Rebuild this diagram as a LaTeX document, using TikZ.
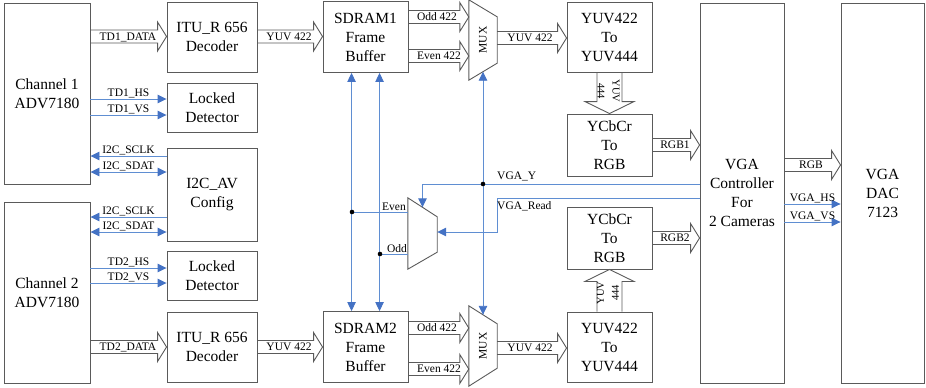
\documentclass[tikz,border=0pt]{standalone}
\usepackage{fontspec}
\setmainfont{Liberation Serif}
\usetikzlibrary{arrows.meta,calc}
\definecolor{bgray}{RGB}{90,90,90}
\definecolor{ablue}{RGB}{68,114,196}
\definecolor{lblue}{RGB}{95,142,210}
\begin{document}
\begin{tikzpicture}[x=1pt,y=-1pt,
  box/.style={draw=bgray,line width=0.9pt,align=center,inner sep=0pt,font=\fontsize{15.5}{19}\selectfont},
  lab/.style={font=\fontsize{11.5}{13}\selectfont,inner sep=1pt},
  vlab/.style={font=\fontsize{10.5}{15}\selectfont,inner sep=0pt,align=center},
  bl/.style={draw=lblue,line width=0.9pt,>={Triangle[length=9pt,width=8.5pt,color=ablue]}},
  harrow/.style={draw=bgray,line width=0.9pt,to path={let \p1=(\tikztostart),\p2=(\tikztotarget) in
     (\x1,\y1+6.5pt) -- (\x2-9pt,\y1+6.5pt) -- (\x2-9pt,\y1+14.5pt) -- (\x2,\y1)
     -- (\x2-9pt,\y1-14.5pt) -- (\x2-9pt,\y1-6.5pt) -- (\x1,\y1-6.5pt)}},
  darrow/.style={draw=bgray,line width=0.9pt,to path={let \p1=(\tikztostart),\p2=(\tikztotarget) in
     (\x1-12.5pt,\y1) -- (\x1-12.5pt,\y2+12pt) -- (\x1-24.5pt,\y2+12pt) -- (\x1,\y2)
     -- (\x1+24.5pt,\y2+12pt) -- (\x1+12.5pt,\y2+12pt) -- (\x1+12.5pt,\y1)}},
  uarrow/.style={draw=bgray,line width=0.9pt,to path={let \p1=(\tikztostart),\p2=(\tikztotarget) in
     (\x1-12.5pt,\y1) -- (\x1-12.5pt,\y2-12pt) -- (\x1-24.5pt,\y2-12pt) -- (\x1,\y2)
     -- (\x1+24.5pt,\y2-12pt) -- (\x1+12.5pt,\y2-12pt) -- (\x1+12.5pt,\y1)}},
  muxlab/.style={inner sep=0pt,minimum width=28pt,minimum height=80pt,font=\fontsize{11.5}{13}\selectfont},
  dot/.style={fill=black}
]
\useasboundingbox (0,0) rectangle (926,388);

% boxes
\node[box,minimum width=86pt,minimum height=181pt] (ch1) at (47,93.5) {Channel 1\\ADV7180};
\node[box,minimum width=86pt,minimum height=181pt] (ch2) at (47,292.5) {Channel 2\\ADV7180};
\node[box,minimum width=90pt,minimum height=70pt] (itu1) at (212,37) {ITU\_R 656\\Decoder};
\node[box,minimum width=90pt,minimum height=49pt] (lock1) at (212,107.5) {Locked\\Detector};
\node[box,minimum width=90pt,minimum height=93pt] (i2c) at (212,194.5) {I2C\_AV\\Config};
\node[box,minimum width=90pt,minimum height=49pt] (lock2) at (212,275.5) {Locked\\Detector};
\node[box,minimum width=90pt,minimum height=70pt] (itu2) at (212,347) {ITU\_R 656\\Decoder};
\node[box,minimum width=85pt,minimum height=71pt] (sd1) at (365.5,37) {SDRAM1\\Frame\\Buffer};
\node[box,minimum width=85pt,minimum height=71pt] (sd2) at (365.5,347) {SDRAM2\\Frame\\Buffer};
\node[box,minimum width=85pt,minimum height=70pt] (yuv1) at (609.5,37) {YUV422\\To\\YUV444};
\node[box,minimum width=85pt,minimum height=62pt] (ycc1) at (609.5,145) {YCbCr\\To\\RGB};
\node[box,minimum width=85pt,minimum height=62pt] (ycc2) at (609.5,238) {YCbCr\\To\\RGB};
\node[box,minimum width=85pt,minimum height=70pt] (yuv2) at (609.5,347) {YUV422\\To\\YUV444};
\node[box,minimum width=84pt,minimum height=380pt] (vga) at (742,193) {VGA\\Controller\\For\\2 Cameras};
\node[box,minimum width=83pt,minimum height=380pt] (dac) at (882.5,193) {VGA\\DAC\\7123};

% multiplexers
\node[muxlab] (mux1) at (483,40) {\rotatebox{90}{MUX}};
\draw[bgray,line width=0.9pt] (mux1.north west) -- ($(mux1.north east)+(0,17)$) -- ($(mux1.south east)+(0,-17)$) -- (mux1.south west) -- cycle;
\node[muxlab] (mux2) at (483,346) {\rotatebox{90}{MUX}};
\draw[bgray,line width=0.9pt] (mux2.north west) -- ($(mux2.north east)+(0,18)$) -- ($(mux2.south east)+(0,-18)$) -- (mux2.south west) -- cycle;
\node[inner sep=0pt,minimum width=29pt,minimum height=71pt] (smux) at (422.5,233.5) {};
\draw[bgray,line width=0.9pt] (smux.north west) -- ($(smux.north east)+(0,19)$) -- ($(smux.south east)+(0,-17)$) -- (smux.south west) -- cycle;

% block arrows
\draw[harrow] (ch1.east |- 0,36.5) to (itu1.west |- 0,36.5);
\node[lab] at (128,37) {TD1\_DATA};
\draw[harrow] (itu1.east |- 0,36.5) to (sd1.west |- 0,36.5);
\node[lab] at (289,37) {YUV 422};
\draw[harrow] (sd1.east |- 0,17) to (mux1.west |- 0,17);
\node[lab] at (437,17) {Odd 422};
\draw[harrow] (sd1.east |- 0,56) to (mux1.west |- 0,56);
\node[lab] at (439,56) {Even 422};
\draw[harrow] (mux1.east |- 0,38) to (yuv1.west |- 0,38);
\node[lab] at (530,38) {YUV 422};
\draw[harrow] (ch2.east |- 0,347) to (itu2.west |- 0,347);
\node[lab] at (128,347) {TD2\_DATA};
\draw[harrow] (itu2.east |- 0,347) to (sd2.west |- 0,347);
\node[lab] at (289,347) {YUV 422};
\draw[harrow] (sd2.east |- 0,328) to (mux2.west |- 0,328);
\node[lab] at (437,328) {Odd 422};
\draw[harrow] (sd2.east |- 0,369) to (mux2.west |- 0,369);
\node[lab] at (439,369) {Even 422};
\draw[harrow] (mux2.east |- 0,348) to (yuv2.west |- 0,348);
\node[lab] at (530,348) {YUV 422};
\draw[harrow] (ycc1.east |- 0,145) to (vga.west |- 0,145);
\node[lab] at (675,145) {RGB1};
\draw[harrow] (ycc2.east |- 0,238) to (vga.west |- 0,238);
\node[lab] at (675,238) {RGB2};
\draw[harrow] (vga.east |- 0,165) to (dac.west |- 0,165);
\node[lab] at (811,165) {RGB};
\draw[darrow] (yuv1.south) to (ycc1.north);
\node[vlab,rotate=-90] at (608.5,91) {YUV\\444};
\draw[uarrow] (yuv2.north) to (ycc2.south);
\node[vlab,rotate=90] at (608,293) {YUV\\444};

% blue signals, left side
\draw[bl,->] (ch1.east |- 0,99) -- node[lab,above]{TD1\_HS} (lock1.west |- 0,99);
\draw[bl,->] (ch1.east |- 0,115) -- node[lab,above]{TD1\_VS} (lock1.west |- 0,115);
\draw[bl,->] (i2c.west |- 0,156) -- node[lab,above]{I2C\_SCLK} (ch1.east |- 0,156);
\draw[bl,<->] (i2c.west |- 0,172) -- node[lab,above]{I2C\_SDAT} (ch1.east |- 0,172);
\draw[bl,->] (i2c.west |- 0,217) -- node[lab,above]{I2C\_SCLK} (ch2.east |- 0,217);
\draw[bl,<->] (i2c.west |- 0,232) -- node[lab,above]{I2C\_SDAT} (ch2.east |- 0,232);
\draw[bl,->] (ch2.east |- 0,268) -- node[lab,above]{TD2\_HS} (lock2.west |- 0,268);
\draw[bl,->] (ch2.east |- 0,283) -- node[lab,above]{TD2\_VS} (lock2.west |- 0,283);

% frame buffer control
\coordinate (jE) at (352,212);
\coordinate (jO) at (380,254);
\coordinate (jY) at (483,184);
\draw[bl,<->] ($(sd1.south west)+(29,0)$) -- ($(sd2.north west)+(29,0)$);
\draw[bl,<->] ($(sd1.south west)+(57,0)$) -- ($(sd2.north west)+(57,0)$);
\draw[bl] (jE) -- (smux.west |- jE);
\draw[bl] (jO) -- (smux.west |- jO);
\node[lab,anchor=south east] at (407,211.5) {Even};
\node[lab,anchor=south east] at (408,253.5) {Odd};
\draw[bl,<->] ($(mux1.south)+(0,-8.5)$) -- ($(mux2.north)+(0,9)$);
\draw[bl,->] (vga.west |- jY) -| ($(smux.north)+(0,9.5)$);
\node[lab,anchor=west] at (496,176) {VGA\_Y};
\draw[bl,->] (vga.west |- 0,198) -- (497,198) -- (497,232) -- (smux.east |- 0,232);
\node[lab,anchor=west] at (496,206) {VGA\_Read};
\fill[dot] (jE) circle (2.3pt);
\fill[dot] (jO) circle (2.3pt);
\fill[dot] (jY) circle (2.3pt);

% right side
\draw[bl,->] (vga.east |- 0,204) -- node[lab,above]{VGA\_HS} (dac.west |- 0,204);
\draw[bl,->] (vga.east |- 0,222) -- node[lab,above]{VGA\_VS} (dac.west |- 0,222);
\end{tikzpicture}
\end{document}
